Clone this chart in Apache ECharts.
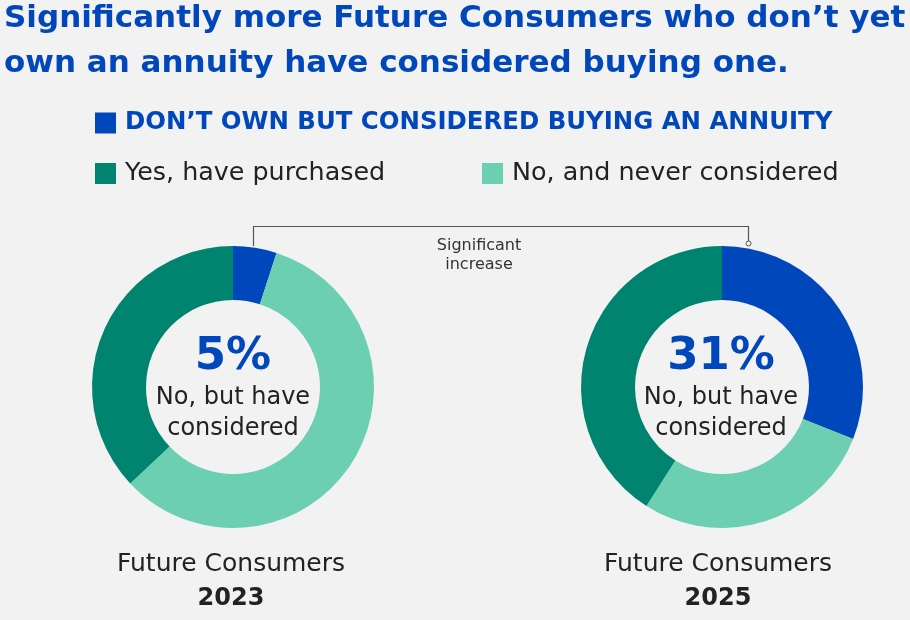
<!doctype html>
<html>
<head>
<meta charset="UTF-8">
<title>Future Consumers annuity</title>
<script src="https://cdn.jsdelivr.net/npm/echarts@6/dist/echarts.min.js"></script>
<style>
  html, body { margin: 0; padding: 0; background: #f2f2f2; }
  #main { width: 910px; height: 620px; }
</style>
</head>
<body>
<div id="main"></div>
<script>
// data
var categories = ['DON\u2019T OWN BUT CONSIDERED BUYING AN ANNUITY', 'No, and never considered', 'Yes, have purchased'];
var values2023 = [5, 58, 37];
var values2025 = [31, 28, 41];
var years = ['2023', '2025'];
var colors = ['#0047bb', '#6dcfb1', '#008470'];

var font = '"DejaVu Sans", sans-serif';
var myChart = echarts.init(document.getElementById('main'));

function pieData(vals) {
  return vals.map(function (v, i) {
    return { name: categories[i], value: v, itemStyle: { color: colors[i] } };
  });
}

// text placed by its vertical middle
function txt(x, y, text, f, color, align) {
  return { type: 'text', x: x, y: y, style: { text: text, fill: color, font: f, align: align || 'center', verticalAlign: 'middle' } };
}

var graphics = [
  txt(4, 19, 'Significantly more Future Consumers who don\u2019t yet', 'bold 31px ' + font, '#0047bb', 'left'),
  txt(4, 64, 'own an annuity have considered buying one.', 'bold 31px ' + font, '#0047bb', 'left'),
  { type: 'polyline', shape: { points: [[253.5, 246], [253.5, 226.5], [748.5, 226.5], [748.5, 241]] }, style: { stroke: '#555', lineWidth: 1.2, fill: null } },
  { type: 'circle', shape: { cx: 748.5, cy: 243.5, r: 2.5 }, style: { stroke: '#555', lineWidth: 1, fill: '#f2f2f2' } },
  txt(479, 246, 'Significant', '16px ' + font, '#333'),
  txt(479, 265, 'increase', '16px ' + font, '#333'),
  txt(233, 357, values2023[0] + '%', 'bold 45px ' + font, '#0047bb'),
  txt(233, 398, 'No, but have', '24px ' + font, '#222'),
  txt(233, 429, 'considered', '24px ' + font, '#222'),
  txt(721, 357, values2025[0] + '%', 'bold 45px ' + font, '#0047bb'),
  txt(721, 398, 'No, but have', '24px ' + font, '#222'),
  txt(721, 429, 'considered', '24px ' + font, '#222'),
  txt(231, 564, 'Future Consumers', '25px ' + font, '#222'),
  txt(231, 599, years[0], 'bold 24px ' + font, '#222'),
  txt(718, 564, 'Future Consumers', '25px ' + font, '#222'),
  txt(718, 599, years[1], 'bold 24px ' + font, '#222')
];

function legend(left, top, names, size, color, weight) {
  return {
    left: left, top: top,
    icon: 'rect', itemWidth: 21, itemHeight: 21, itemGap: 0,
    data: names,
    selectedMode: false,
    textStyle: { fontFamily: font, fontSize: size, fontWeight: weight || 'normal', color: color, padding: [0, 0, 0, 4] }
  };
}

var option = {
  backgroundColor: '#f2f2f2',
  animation: false,
  legend: [
    legend(90, 106, [categories[0]], 24.4, '#0047bb', 'bold'),
    legend(90, 156, [categories[2]], 25.4, '#222'),
    legend(477, 156, [categories[1]], 25.4, '#222')
  ],
  graphic: graphics,
  series: [{
    type: 'pie', name: years[0], center: [233, 387], radius: [87, 141],
    startAngle: 90, clockwise: true, silent: true,
    label: { show: false }, labelLine: { show: false },
    data: pieData(values2023)
  }, {
    type: 'pie', name: years[1], center: [722, 387], radius: [87, 141],
    startAngle: 90, clockwise: true, silent: true,
    label: { show: false }, labelLine: { show: false },
    data: pieData(values2025)
  }]
};
myChart.setOption(option);
</script>
</body>
</html>
